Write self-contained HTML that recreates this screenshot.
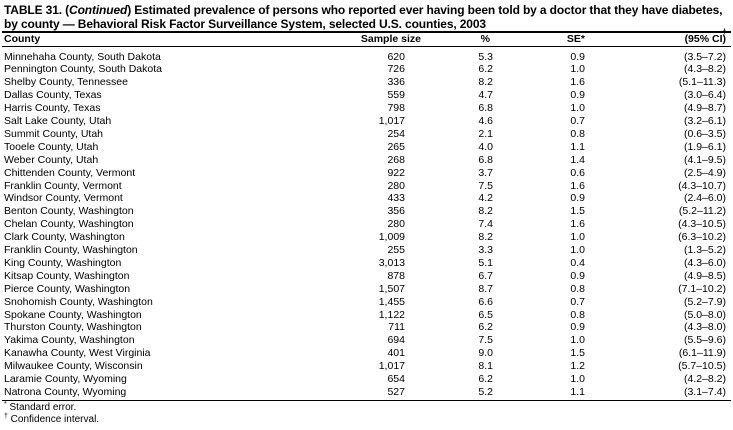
<!DOCTYPE html>
<html><head><meta charset="utf-8"><style>
body{margin:0;background:#fff;width:733px;height:430px;overflow:hidden;font-family:"Liberation Sans",Arial,sans-serif;color:#000;position:relative}
.t{position:absolute;left:4px;top:3px;font-size:12px;font-weight:bold;line-height:14px;letter-spacing:-0.13px;white-space:nowrap}
.r{position:absolute;left:0;width:733px;height:13px;font-size:10.5px;line-height:13px;white-space:nowrap}
.r span{position:absolute;top:0}
.c0{left:4px}
.c1{right:328px}
.c2{right:240px}
.c3{right:148px}
.c4{right:7px}
.h{font-weight:bold}
.sp{font-size:7px;position:relative;top:-4px;line-height:0}
.line{position:absolute;left:2px;width:729px;background:#000}
.fn{position:absolute;left:4px;font-size:10px;line-height:12px}
</style></head><body>
<div class="t">TABLE 31. (<i>Continued</i>) Estimated prevalence of persons who reported ever having been told by a doctor that they have diabetes,<br>by county — Behavioral Risk Factor Surveillance System, selected U.S. counties, 2003</div>
<div class="line" style="top:31px;height:2px"></div>
<div class="r h" style="top:33px"><span class="c0">County</span><span class="c1" style="right:312px">Sample size</span><span class="c2" style="right:243px">%</span><span class="c3">SE*</span><span class="c4">(95% CI<span class="sp">†</span>)</span></div>
<div class="line" style="top:46px;height:1px"></div>
<div id="rows"></div>
<div class="line" style="top:400px;height:1px"></div>
<div class="fn" style="top:402px"><span class="sp">*</span> Standard error.</div>
<div class="fn" style="top:414px"><span class="sp">†</span> Confidence interval.</div>
<script>
var d=[["Minnehaha County, South Dakota","620","5.3","0.9","(3.5–7.2)"],
["Pennington County, South Dakota","726","6.2","1.0","(4.3–8.2)"],
["Shelby County, Tennessee","336","8.2","1.6","(5.1–11.3)"],
["Dallas County, Texas","559","4.7","0.9","(3.0–6.4)"],
["Harris County, Texas","798","6.8","1.0","(4.9–8.7)"],
["Salt Lake County, Utah","1,017","4.6","0.7","(3.2–6.1)"],
["Summit County, Utah","254","2.1","0.8","(0.6–3.5)"],
["Tooele County, Utah","265","4.0","1.1","(1.9–6.1)"],
["Weber County, Utah","268","6.8","1.4","(4.1–9.5)"],
["Chittenden County, Vermont","922","3.7","0.6","(2.5–4.9)"],
["Franklin County, Vermont","280","7.5","1.6","(4.3–10.7)"],
["Windsor County, Vermont","433","4.2","0.9","(2.4–6.0)"],
["Benton County, Washington","356","8.2","1.5","(5.2–11.2)"],
["Chelan County, Washington","280","7.4","1.6","(4.3–10.5)"],
["Clark County, Washington","1,009","8.2","1.0","(6.3–10.2)"],
["Franklin County, Washington","255","3.3","1.0","(1.3–5.2)"],
["King County, Washington","3,013","5.1","0.4","(4.3–6.0)"],
["Kitsap County, Washington","878","6.7","0.9","(4.9–8.5)"],
["Pierce County, Washington","1,507","8.7","0.8","(7.1–10.2)"],
["Snohomish County, Washington","1,455","6.6","0.7","(5.2–7.9)"],
["Spokane County, Washington","1,122","6.5","0.8","(5.0–8.0)"],
["Thurston County, Washington","711","6.2","0.9","(4.3–8.0)"],
["Yakima County, Washington","694","7.5","1.0","(5.5–9.6)"],
["Kanawha County, West Virginia","401","9.0","1.5","(6.1–11.9)"],
["Milwaukee County, Wisconsin","1,017","8.1","1.2","(5.7–10.5)"],
["Laramie County, Wyoming","654","6.2","1.0","(4.2–8.2)"],
["Natrona County, Wyoming","527","5.2","1.1","(3.1–7.4)"]];
var h="";d.forEach(function(r,i){h+='<div class="r" style="top:'+(50.5+i*12.9)+'px"><span class="c0">'+r[0]+'</span><span class="c1">'+r[1]+'</span><span class="c2">'+r[2]+'</span><span class="c3">'+r[3]+'</span><span class="c4">'+r[4]+'</span></div>';});
document.getElementById("rows").innerHTML=h;
</script>
</body></html>
